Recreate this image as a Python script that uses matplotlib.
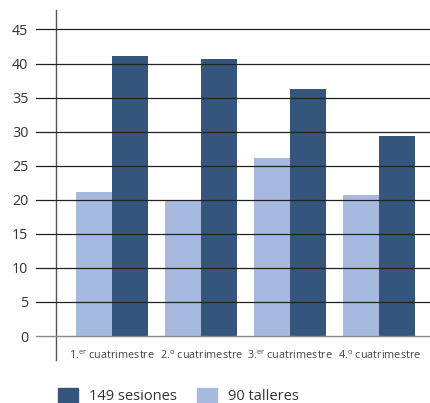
import matplotlib.pyplot as plt
import numpy as np
from matplotlib.patches import Patch

plt.rcParams['font.family'] = ['Open Sans', 'DejaVu Sans']
plt.rcParams['mathtext.fontset'] = 'custom'
plt.rcParams['mathtext.rm'] = 'Open Sans'

categories = [r"1.$^{\rm er}$ cuatrimestre", r"2.$^{\rm o}$ cuatrimestre",
              r"3.$^{\rm er}$ cuatrimestre", r"4.$^{\rm o}$ cuatrimestre"]
talleres = [21.1, 20.0, 26.1, 20.7]
sesiones = [41.1, 40.7, 36.3, 29.4]
yticks = [0, 5, 10, 15, 20, 25, 30, 35, 40, 45]

DARK = "#34567c"
LIGHT = "#a6b9df"

fig = plt.figure(figsize=(4.30, 4.03), dpi=100)
# axes spans from x=56px to right edge, y from 10px to 360px
ax = fig.add_axes([56 / 430, 1 - 360 / 403, 374 / 430, 350 / 403])

x = np.arange(len(categories))
w = 0.404
ax.bar(x - w / 2, talleres, width=w, color=LIGHT, zorder=2)
ax.bar(x + w / 2, sesiones, width=w, color=DARK, zorder=2)

ax.set_xlim(-0.63, 3.57)
ax.set_ylim(-3.52, 47.86)

# gridlines drawn over bars, extending left of the spine
for t in yticks[1:]:
    ax.axhline(t, xmin=-0.0535, xmax=1, color="#222222", lw=0.9, zorder=3, clip_on=False)
ax.axhline(0, xmin=-0.0535, xmax=1, color="#8a8a8a", lw=1.0, zorder=3, clip_on=False)

for s in ["top", "right", "bottom"]:
    ax.spines[s].set_visible(False)
ax.spines["left"].set_color("#555555")
ax.spines["left"].set_linewidth(1.0)

ax.set_yticks(yticks)
ax.set_yticklabels([str(t) for t in yticks], fontsize=10.3, color="#333333")
ax.tick_params(axis="y", length=0, pad=20)

ax.set_xticks([])
for xi, lab in zip(x, categories):
    ax.text(xi, -2.94, lab, ha="center", va="center", fontsize=7.8, color="#444444")

handles = [Patch(color=DARK, label="149 sesiones"), Patch(color=LIGHT, label="90 talleres")]
fig.legend(handles=handles, loc="center left", bbox_to_anchor=(45 / 430, 1 - 396 / 403),
           ncol=2, frameon=False, fontsize=10.5, handlelength=1.35, handleheight=1.2,
           handletextpad=0.75, columnspacing=1.4, labelcolor="#333333")

fig.savefig("out.png", dpi=100)
